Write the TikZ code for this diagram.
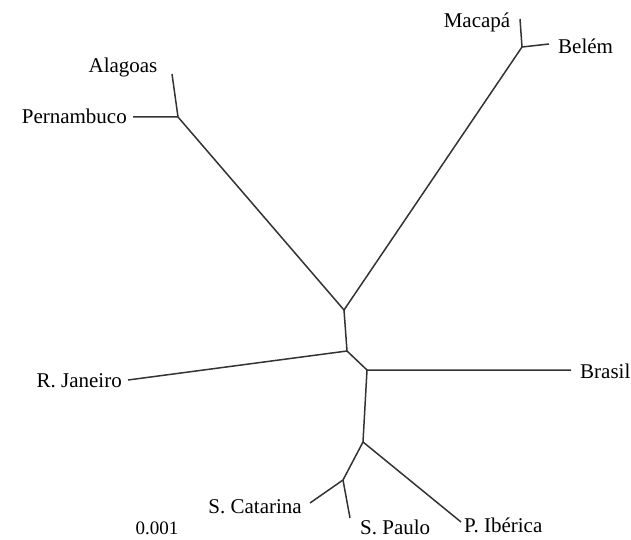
\documentclass[tikz,border=0pt]{standalone}
\usepackage{fontspec}
\setmainfont{Liberation Serif}
\usetikzlibrary{positioning}

\tikzset{
  branch/.style={line width=1.5pt, black!80},
  taxon/.style={font=\fontsize{21}{24}\selectfont, inner sep=1pt}
}

\begin{document}
\begin{tikzpicture}[x=1pt,y=-1pt]
    \useasboundingbox (0,0) rectangle (631,540);

    % Internal nodes of the tree
    \coordinate (nAP) at (178,117);
    \coordinate (nMB) at (522,47);
    \coordinate (nTop) at (344,310);
    \coordinate (nMid) at (347,351);
    \coordinate (nBr) at (367,370);
    \coordinate (nLow) at (363,442);
    \coordinate (nSC) at (343,480);

    % Leaf tips
    \coordinate (tAlagoas) at (172,74);
    \coordinate (tPernambuco) at (133,117);
    \coordinate (tMacapa) at (520,19);
    \coordinate (tBelem) at (549,44);
    \coordinate (tBrasil) at (571,370);
    \coordinate (tJaneiro) at (128,380);
    \coordinate (tCatarina) at (310,503);
    \coordinate (tPaulo) at (350,518);
    \coordinate (tIberica) at (461,522);

    % Labels
    \node[taxon] (Alagoas) at (123,67) {Alagoas};
    \node[taxon, anchor=east] (Pernambuco) at (128,116) {Pernambuco};
    \node[taxon] (Macapa) at (477,22) {Macapá};
    \node[taxon, anchor=west] (Belem) at (557,46) {Belém};
    \node[taxon, anchor=west] (Brasil) at (579,371) {Brasil};
    \node[taxon, anchor=east] (Janeiro) at (123,381) {R. Janeiro};
    \node[taxon, anchor=east] (Catarina) at (303,507) {S. Catarina};
    \node[taxon, anchor=west] (Paulo) at (359,527) {S. Paulo};
    \node[taxon, anchor=west] (Iberica) at (463,525) {P. Ibérica};
    \node[font=\fontsize{19}{22}\selectfont] (scale) at (157,528) {0.001};

    % Branches
    \draw[branch] (tAlagoas) -- (nAP) -- (tPernambuco);
    \draw[branch] (tMacapa) -- (nMB) -- (tBelem);
    \draw[branch] (nAP) -- (nTop) -- (nMB);
    \draw[branch] (nTop) -- (nMid) -- (tJaneiro);
    \draw[branch] (nMid) -- (nBr) -- (tBrasil);
    \draw[branch] (nBr) -- (nLow) -- (tIberica);
    \draw[branch] (nLow) -- (nSC) -- (tCatarina);
    \draw[branch] (nSC) -- (tPaulo);
\end{tikzpicture}
\end{document}
